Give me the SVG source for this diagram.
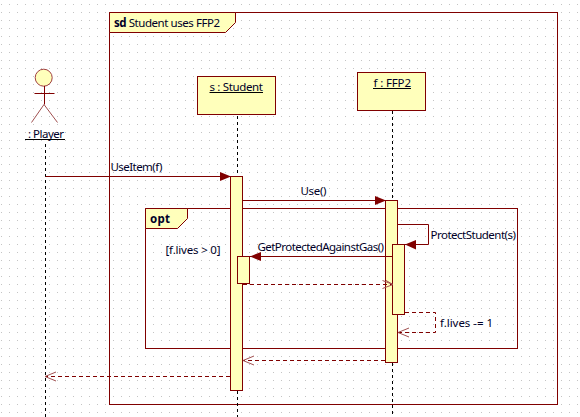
<svg xmlns="http://www.w3.org/2000/svg" width="580" height="417" viewBox="0 0 580 417">
<style>
text{font-family:"Noto Sans","Liberation Sans",sans-serif;font-size:11.5px;fill:#000028}
.s{fill:none;stroke:#800000;stroke-width:1}
.b{fill:#ffffbb;stroke:#800000;stroke-width:1}
.d{fill:none;stroke:#800000;stroke-width:1;stroke-dasharray:4 3}
.l{fill:none;stroke:#000;stroke-width:1;stroke-dasharray:3 3}
.o{fill:none;stroke:#a05050;stroke-width:1}
.a{fill:#800000}
</style>
<defs><pattern id="g" width="8" height="8" patternUnits="userSpaceOnUse"><rect x="1" y="4" width="1" height="1" fill="#c4c4c4"/></pattern></defs>
<rect width="580" height="417" fill="#fff"/>
<rect width="580" height="417" fill="url(#g)"/>
<g id="frame-sd"><rect class="s" x="109.500" y="12.500" width="448" height="392"/><path class="b" d="M109.500 12.500H235.500V22.500L225.500 32.500H109.500Z"/><text x="114" y="27" textLength="106"><tspan font-weight="bold">sd</tspan> Student uses FFP2</text></g>
<g id="lifelines"><path class="l" d="M45.500 144V417M237.500 116V176M237.500 391V417M392.500 111V200M392.500 363V417"/></g>
<g id="player"><circle cx="43.700" cy="77.700" r="8.500" fill="#ffffbb" stroke="#a04040"/><path class="s" d="M44.500 86V104.500M34.500 93.500H54.500"/><path class="o" d="M44 104.500L31.500 122.500M44 104.500L57.500 122.500"/><text x="28" y="138" textLength="36">: Player</text><path d="M25 139.500H65" stroke="#000"/></g>
<g id="student"><rect class="b" x="197.500" y="76.500" width="78" height="38"/><text x="209.500" y="91" textLength="53.500">s : Student</text><path d="M209.500 92.500H263" stroke="#000"/></g>
<g id="ffp2"><rect class="b" x="357.500" y="72.500" width="68" height="38"/><text x="373.500" y="87" textLength="37.500">f : FFP2</text><path d="M373 88.500H411" stroke="#000"/></g>
<g id="frame-opt"><rect class="s" x="145.500" y="208.500" width="372" height="140"/><path class="b" d="M145.500 208.500H187.500V218.500L177.500 228.500H145.500Z"/><text x="150" y="223" font-weight="bold" textLength="20">opt</text><text x="165.500" y="254" textLength="55">[f.lives &gt; 0]</text></g>
<g id="activations"><rect class="b" x="230.500" y="176.500" width="12" height="214"/><rect class="b" x="385.500" y="200.500" width="12" height="162"/><rect class="b" x="237.500" y="256.500" width="12" height="27"/><rect class="b" x="392.500" y="244.500" width="12" height="70"/></g>
<g id="connectors">
<path class="s" d="M45.500 176.500H230"/><path class="a" d="M231 176.500L220 172V181Z"/><text x="110.500" y="171" textLength="52">UseItem(f)</text>
<path class="s" d="M243 200.500H385"/><path class="a" d="M386 200.500L375 196V205Z"/><text x="300.500" y="195" textLength="26">Use()</text>
<path class="s" d="M398 224.500H428.500V244.500H405"/><path class="a" d="M405 244.500L416 240V249.500Z"/><text x="430.500" y="239" textLength="85.500">ProtectStudent(s)</text>
<path class="s" d="M392 256.500H250"/><path class="a" d="M250 256.500L261 252V261Z"/><text x="257.500" y="251" textLength="126.500">GetProtectedAgainstGas()</text>
<path class="d" d="M243 284.500H392"/><path class="o" d="M382.500 280.500L393 284.500L382.500 288.500M386 280.500L393 284.500"/>
<path class="d" d="M405 312.500H435.500V332.500H398"/><path class="o" d="M409 328L398 332.500L409 337"/><text x="440" y="327" textLength="53">f.lives -= 1</text>
<path class="d" d="M385 360.500H243"/><path class="o" d="M254 356L243 360.500L254 365"/>
<path class="d" d="M230 376.500H46"/><path class="o" d="M56 372L45 376.500L56 381"/>
</g>
</svg>
